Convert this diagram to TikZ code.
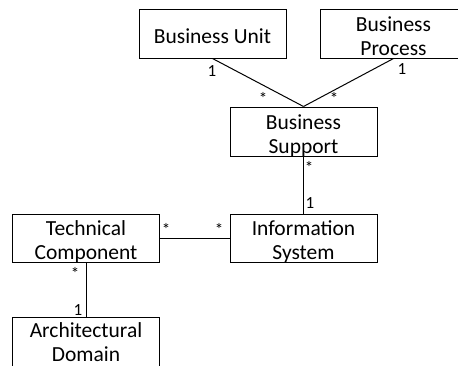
\documentclass[tikz,border=0pt]{standalone}
\usepackage{fontspec}
\setmainfont{Carlito}
\begin{document}
\begin{tikzpicture}[x=1pt,y=-1pt,
  umlbox/.style={draw=black,line width=1pt,rectangle,inner sep=0pt,minimum width=147pt,minimum height=49pt},
  boxtext/.style={font=\fontsize{21.5}{23.5}\selectfont,align=center,anchor=base,inner sep=0pt},
  mult/.style={font=\fontsize{17}{19}\selectfont,anchor=base,inner sep=0pt},
  assoc/.style={draw=black,line width=1pt}]
\useasboundingbox (0,0) rectangle (458,365);
\clip (0,0) rectangle (458,365);
% boxes
\node[umlbox] (bu) at (212.5,33.5) {};
\node[umlbox] (bp) at (393.5,33.5) {};
\node[umlbox] (bs) at (303.5,131.5) {};
\node[umlbox,minimum height=48pt] (tc) at (86,238) {};
\node[umlbox,minimum height=48pt] (is) at (303.5,238) {};
\node[umlbox,minimum height=56pt] (ad) at (86,345) {};
% texts (base = last line's baseline)
\node[boxtext] (tbu) at (212.5,43) {Business Unit};
\node[boxtext] (tbp) at (393.5,55) {Business\\Process};
\node[boxtext] (tbs) at (303.5,153) {Business\\Support};
\node[boxtext] (ttc) at (86,259) {Technical\\Component};
\node[boxtext] (tis) at (303.5,259) {Information\\System};
\node[boxtext] (tad) at (86,361) {Architectural\\Domain};
% connectors
\draw[assoc] (bu.south) -- (bs.north);
\draw[assoc] (bp.south) -- (bs.north);
\draw[assoc] (bs.south) -- (is.north);
\draw[assoc] (tc.east) -- (is.west);
\draw[assoc] (tc.south) -- (ad.north);
% multiplicities
\node[mult] (m1) at (212,76) {1};
\node[mult] (m2) at (263,104) {*};
\node[mult] (m3) at (334,104) {*};
\node[mult] (m4) at (402,74) {1};
\node[mult] (m5) at (309,173) {*};
\node[mult] (m6) at (310,208) {1};
\node[mult] (m7) at (166,235) {*};
\node[mult] (m8) at (219,235) {*};
\node[mult] (m9) at (75,279) {*};
\node[mult] (m10) at (78,315) {1};
\end{tikzpicture}
\end{document}
